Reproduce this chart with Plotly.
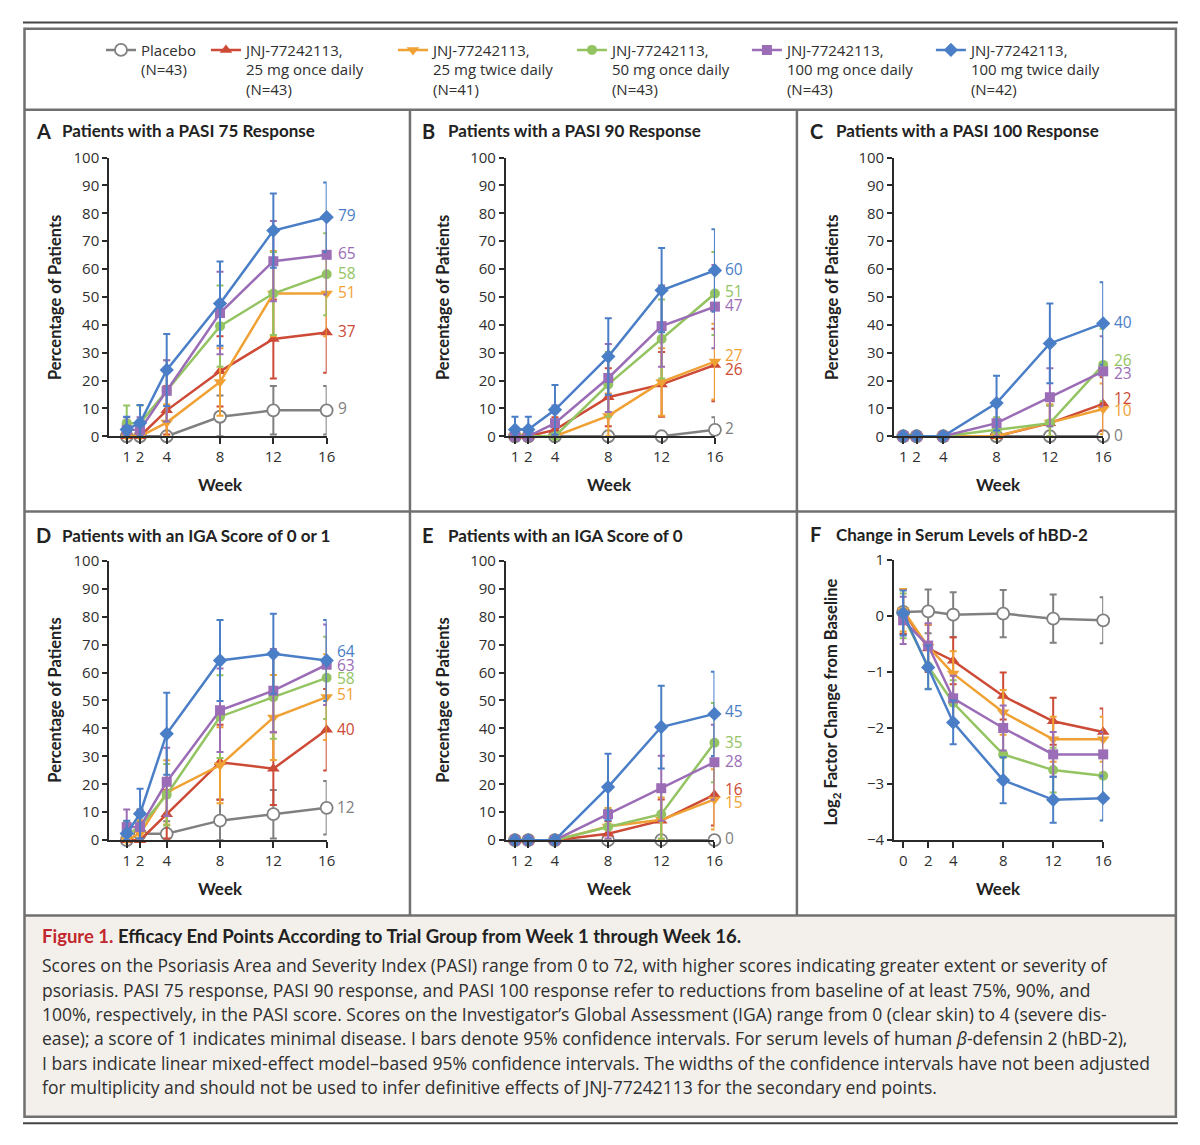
import plotly.graph_objects as go

W, H = 1200, 1145

weeks = [1, 2, 4, 8, 12, 16]
weeks_hbd2 = [0, 2, 4, 8, 12, 16]

group_names = [
    "Placebo<br>(N=43)",
    "JNJ-77242113,<br>25 mg once daily<br>(N=43)",
    "JNJ-77242113,<br>25 mg twice daily<br>(N=41)",
    "JNJ-77242113,<br>50 mg once daily<br>(N=43)",
    "JNJ-77242113,<br>100 mg once daily<br>(N=43)",
    "JNJ-77242113,<br>100 mg twice daily<br>(N=42)",
]

# rows: placebo, 25 mg qd, 25 mg bid, 50 mg qd, 100 mg qd, 100 mg bid
# *_ci = half width of the 95% confidence interval
pasi75 = [
    [0, 0, 0, 7.0, 9.3, 9.3],
    [0, 0, 9.3, 23.3, 34.9, 37.2],
    [0, 0, 4.9, 19.5, 51.2, 51.2],
    [4.7, 4.7, 16.3, 39.5, 51.2, 58.1],
    [2.3, 2.3, 16.3, 44.2, 62.8, 65.1],
    [2.4, 4.8, 23.8, 47.6, 73.8, 78.6],
]
pasi75_ci = [
    [0, 0, 0, 7.6, 8.7, 8.7],
    [0, 0, 8.7, 12.6, 14.2, 14.4],
    [0, 0, 6.6, 12.1, 15.3, 15.3],
    [6.3, 6.3, 11.0, 14.6, 14.9, 14.7],
    [4.5, 4.5, 11.0, 14.8, 14.4, 14.2],
    [4.6, 6.4, 12.9, 15.1, 13.3, 12.4],
]

pasi90 = [
    [0, 0, 0, 0, 0, 2.3],
    [0, 0, 2.3, 14.0, 18.6, 25.6],
    [0, 0, 0, 7.3, 19.5, 26.8],
    [0, 0, 0, 18.6, 34.9, 51.2],
    [0, 0, 4.7, 20.9, 39.5, 46.51],
    [2.4, 2.4, 9.5, 28.6, 52.4, 59.5],
]
pasi90_ci = [
    [0, 0, 0, 0, 0, 4.5],
    [0, 0, 4.5, 10.4, 11.6, 13.0],
    [0, 0, 0, 8.0, 12.1, 13.6],
    [0, 0, 0, 11.6, 14.2, 14.9],
    [0, 0, 6.3, 12.2, 14.6, 14.9],
    [4.6, 4.6, 8.9, 13.7, 15.1, 14.8],
]

pasi100 = [
    [0, 0, 0, 0, 0, 0],
    [0, 0, 0, 0, 4.7, 11.6],
    [0, 0, 0, 0, 4.9, 9.8],
    [0, 0, 0, 2.3, 4.7, 25.6],
    [0, 0, 0, 4.7, 14.0, 23.3],
    [0, 0, 0, 11.9, 33.3, 40.48],
]
pasi100_ci = [
    [0, 0, 0, 0, 0, 0],
    [0, 0, 0, 0, 6.3, 9.6],
    [0, 0, 0, 0, 6.6, 9.1],
    [0, 0, 0, 4.5, 6.3, 13.0],
    [0, 0, 0, 6.3, 10.4, 12.6],
    [0, 0, 0, 9.8, 14.3, 14.8],
]

iga01 = [
    [0, 2.3, 2.3, 7.0, 9.3, 11.6],
    [0, 0, 9.3, 27.9, 25.6, 39.5],
    [0, 2.4, 17.1, 26.8, 43.9, 51.2],
    [2.3, 4.7, 16.3, 44.2, 51.2, 58.1],
    [4.7, 4.7, 20.9, 46.5, 53.5, 62.8],
    [2.4, 9.5, 38.1, 64.3, 66.7, 64.3],
]
iga01_ci = [
    [0, 4.5, 4.5, 7.6, 8.7, 9.6],
    [0, 0, 8.7, 13.4, 13.0, 14.6],
    [0, 4.7, 11.5, 13.6, 15.2, 15.3],
    [4.5, 6.3, 11.0, 14.8, 14.9, 14.7],
    [6.3, 6.3, 12.2, 14.9, 14.9, 14.4],
    [4.6, 8.9, 14.7, 14.5, 14.3, 14.5],
]

iga0 = [
    [0, 0, 0, 0, 0, 0],
    [0, 0, 0, 2.3, 7.0, 16.3],
    [0, 0, 0, 4.9, 7.3, 14.6],
    [0, 0, 0, 4.7, 9.3, 34.9],
    [0, 0, 0, 9.3, 18.6, 27.9],
    [0, 0, 0, 19.0, 40.5, 45.2],
]
iga0_ci = [
    [0, 0, 0, 0, 0, 0],
    [0, 0, 0, 4.5, 7.6, 11.0],
    [0, 0, 0, 6.6, 8.0, 10.8],
    [0, 0, 0, 6.3, 8.7, 14.2],
    [0, 0, 0, 8.7, 11.6, 13.4],
    [0, 0, 0, 11.9, 14.8, 15.1],
]

# log2 factor change from baseline in serum hBD-2
hbd2 = [
    [0.07, 0.08, 0.02, 0.04, -0.05, -0.08],
    [0.08, -0.58, -0.80, -1.43, -1.88, -2.07],
    [0.10, -0.55, -1.03, -1.72, -2.20, -2.20],
    [0.00, -0.90, -1.55, -2.47, -2.75, -2.85],
    [-0.08, -0.53, -1.47, -2.00, -2.47, -2.47],
    [0.05, -0.92, -1.90, -2.93, -3.28, -3.25],
]
hbd2_ci = [
    [0.40, 0.39, 0.40, 0.42, 0.43, 0.41],
    [0.40, 0.42, 0.42, 0.42, 0.42, 0.42],
    [0.38, 0.40, 0.40, 0.40, 0.40, 0.40],
    [0.40, 0.40, 0.40, 0.40, 0.40, 0.40],
    [0.42, 0.40, 0.40, 0.40, 0.40, 0.40],
    [0.40, 0.39, 0.39, 0.41, 0.41, 0.40],
]

colors = ["#808080", "#cc4a36", "#f0a134", "#94c462", "#9b6db6", "#4a7ec6"]
symbols = ["circle", "triangle-up", "triangle-down", "circle", "square", "diamond"]
msizes = [12, 11, 11, 10, 10, 11]

BOLD = "Lato"
REG = "Open Sans"
TXT = "#2f2f2f"

# the captured page comes out slightly shrunk and pushed down; positions below are
# given in picture pixels and mapped back through this
SX, OX = 0.9926, 0.0
SY, OY = 0.981, 10.4


def px(x):
    return ((x - OX) / SX) / W


def py(y):
    return 1 - ((y - OY) / SY) / H


panels = [
    dict(letter="A", title="Patients with a PASI 75 Response", vals=pasi75, ci=pasi75_ci, x=weeks,
         x0=109, x1=326.7, xmin=-0.33, yb=435, yt=156.7, lx=34, ly=130,
         ytx=55, yty=296, wx=221, wy=483, lab_dx=9.5, lab_dy=[2, 1.5, 2, 1.7, 2, 2]),
    dict(letter="B", title="Patients with a PASI 90 Response", vals=pasi90, ci=pasi90_ci, x=weeks,
         x0=505.7, x1=715, xmin=0.3, yb=435, yt=156.7, lx=420, ly=130,
         ytx=443, yty=296, wx=610, wy=483, lab_dx=8, lab_dy=[2, -4.5, 7, 2.5, 1.4, 1.7]),
    dict(letter="C", title="Patients with a PASI 100 Response", vals=pasi100, ci=pasi100_ci, x=weeks,
         x0=894, x1=1103.3, xmin=0.3, yb=435, yt=156.7, lx=808, ly=130,
         ytx=832, yty=296, wx=999, wy=483, lab_dx=9, lab_dy=[1.7, 6, -1.4, 4.7, -1.4, 1.7]),
    dict(letter="D", title="Patients with an IGA Score of 0 or 1", vals=iga01, ci=iga01_ci, x=weeks,
         x0=109, x1=326.7, xmin=-0.33, yb=838.3, yt=559.3, lx=34, ly=534,
         ytx=55, yty=698, wx=221, wy=887, lab_dx=8.5, lab_dy=[1, 1, 3, -0.5, 0, 9.5]),
    dict(letter="E", title="Patients with an IGA Score of 0", vals=iga0, ci=iga0_ci, x=weeks,
         x0=505.7, x1=714.5, xmin=0.3, yb=838.3, yt=559.3, lx=420, ly=534,
         ytx=443, yty=698, wx=610, wy=887, lab_dx=8.5, lab_dy=[1.7, 6, -2.5, 0.3, 1, 2.8]),
    dict(letter="F", title="Change in Serum Levels of hBD-2", vals=hbd2, ci=hbd2_ci, x=weeks_hbd2,
         x0=894, x1=1103.3, xmin=-0.74, yb=838.3, yt=558.3, lx=808, ly=533,
         ytx=832, yty=700, wx=999, wy=887, lab_dx=None, lab_dy=None),
]

fig = go.Figure()
annotations = []
layout_axes = {}

for i, p in enumerate(panels):
    sfx = "" if i == 0 else str(i + 1)
    pct = p["letter"] != "F"
    for g in range(6):
        vals = p["vals"][g]
        ci = p["ci"][g]
        minus = [min(c, v) for c, v in zip(ci, vals)] if pct else ci
        fig.add_trace(go.Scatter(
            x=p["x"], y=vals, mode="lines+markers",
            xaxis="x" + sfx, yaxis="y" + sfx,
            name=group_names[g],
            line=dict(color=colors[g], width=2.5),
            marker=dict(symbol=symbols[g], size=msizes[g],
                        color="white" if g == 0 else colors[g],
                        line=dict(color=colors[g], width=1.8 if g == 0 else 0)),
            error_y=dict(type="data", symmetric=False, array=ci, arrayminus=minus,
                         color=colors[g], thickness=2, width=3.5),
            cliponaxis=False,
            showlegend=(i == 0),
            legend="legend" if g == 0 else "legend%d" % (g + 1),
            hoverinfo="skip",
        ))
        if pct:
            annotations.append(dict(
                x=p["x"][-1], y=vals[-1], xref="x" + sfx, yref="y" + sfx,
                text=str(int(vals[-1] + 0.5)), showarrow=False,
                xanchor="left", yanchor="middle",
                xshift=p["lab_dx"], yshift=p["lab_dy"][g],
                font=dict(family=REG, size=15.5, color=colors[g]),
            ))

    axis_common = dict(showgrid=False, zeroline=False, showline=True, linecolor="#2a2a2a",
                       linewidth=1.5, ticks="outside", tickcolor="#2a2a2a", tickwidth=1.5,
                       tickfont=dict(family=REG, size=15, color=TXT))
    layout_axes["xaxis" + sfx] = dict(
        axis_common, domain=[px(p["x0"]), px(p["x1"])], range=[p["xmin"], 16],
        tickvals=p["x"], ticklen=6, anchor="y" + sfx)
    if pct:
        layout_axes["yaxis" + sfx] = dict(
            axis_common, domain=[py(p["yb"]), py(p["yt"])], range=[0, 100],
            tickvals=list(range(0, 101, 10)), ticklen=5, anchor="x" + sfx)
    else:
        layout_axes["yaxis" + sfx] = dict(
            axis_common, domain=[py(p["yb"]), py(p["yt"])], range=[-4, 1],
            tickvals=[-4, -3, -2, -1, 0, 1], ticklen=5, anchor="x" + sfx)

    # panel title
    annotations.append(dict(x=px(p["lx"]), y=py(p["ly"]), xref="paper", yref="paper",
                            text="<b>%s</b>" % p["letter"], showarrow=False,
                            xanchor="left", yanchor="middle",
                            font=dict(family=BOLD, size=20, color="#222")))
    annotations.append(dict(x=px(p["lx"] + 26), y=py(p["ly"]), xref="paper", yref="paper",
                            text="<b>%s</b>" % p["title"], showarrow=False,
                            xanchor="left", yanchor="middle",
                            font=dict(family=BOLD, size=17, color="#222")))
    ytitle = "Percentage of Patients" if pct else "Log<sub>2</sub> Factor Change from Baseline"
    annotations.append(dict(x=px(p["ytx"]), y=py(p["yty"]), xref="paper", yref="paper",
                            text="<b>%s</b>" % ytitle, textangle=-90, showarrow=False,
                            xanchor="center", yanchor="middle",
                            font=dict(family=BOLD, size=16.5, color="#222")))
    annotations.append(dict(x=px(p["wx"]), y=py(p["wy"]), xref="paper", yref="paper",
                            text="<b>Week</b>", showarrow=False,
                            xanchor="center", yanchor="middle",
                            font=dict(family=BOLD, size=17, color="#222")))

# caption
caption_title = ("<b><span style='color:#c1272d'>Figure 1.</span> Efficacy End Points According "
                 "to Trial Group from Week 1 through Week 16.</b>")
caption_lines = [
    "Scores on the Psoriasis Area and Severity Index (PASI) range from 0 to 72, with higher scores indicating greater extent or severity of",
    "psoriasis. PASI 75 response, PASI 90 response, and PASI 100 response refer to reductions from baseline of at least 75%, 90%, and",
    "100%, respectively, in the PASI score. Scores on the Investigator\u2019s Global Assessment (IGA) range from 0 (clear skin) to 4 (severe dis-",
    "ease); a score of 1 indicates minimal disease. I bars denote 95% confidence intervals. For serum levels of human <i>\u03b2</i>-defensin 2 (hBD-2),",
    "I bars indicate linear mixed-effect model\u2013based 95% confidence intervals. The widths of the confidence intervals have not been adjusted",
    "for multiplicity and should not be used to infer definitive effects of JNJ-77242113 for the secondary end points.",
]
annotations.append(dict(x=px(40), y=py(934), xref="paper", yref="paper", text=caption_title,
                        showarrow=False, xanchor="left", yanchor="middle",
                        font=dict(family=BOLD, size=18.5, color="#222")))
for k, line in enumerate(caption_lines):
    annotations.append(dict(x=px(40), y=py(963 + k * 24.4), xref="paper", yref="paper", text=line,
                            showarrow=False, xanchor="left", yanchor="middle",
                            font=dict(family=REG, size=17.5, color=TXT)))

# frame
frame = "#707070"
shapes = [
    dict(type="rect", xref="paper", yref="paper", x0=px(24.5), x1=px(1176), y0=py(1114.5), y1=py(913.5),
         fillcolor="#f3f0eb", line=dict(width=0), layer="below"),
    dict(type="rect", xref="paper", yref="paper", x0=px(24.5), x1=px(1176), y0=py(1114.5), y1=py(28),
         line=dict(color=frame, width=2.5)),
    dict(type="line", xref="paper", yref="paper", x0=px(23), x1=px(1178), y0=py(22), y1=py(22),
         line=dict(color="#444", width=2)),
    dict(type="line", xref="paper", yref="paper", x0=px(23), x1=px(1178), y0=py(1121), y1=py(1121),
         line=dict(color="#444", width=2)),
    dict(type="line", xref="paper", yref="paper", x0=px(24.5), x1=px(1176), y0=py(109), y1=py(109),
         line=dict(color=frame, width=2.5)),
    dict(type="line", xref="paper", yref="paper", x0=px(24.5), x1=px(1176), y0=py(510), y1=py(510),
         line=dict(color=frame, width=2.5)),
    dict(type="line", xref="paper", yref="paper", x0=px(24.5), x1=px(1176), y0=py(913.5), y1=py(913.5),
         line=dict(color=frame, width=2.5)),
    dict(type="line", xref="paper", yref="paper", x0=px(410), x1=px(410), y0=py(913.5), y1=py(109),
         line=dict(color=frame, width=2.5)),
    dict(type="line", xref="paper", yref="paper", x0=px(797), x1=px(797), y0=py(913.5), y1=py(109),
         line=dict(color=frame, width=2.5)),
]

# one legend per group so each entry sits where it does in the figure
legend_x = [101, 206, 393, 572, 747, 931]
legends = {}
for g in range(6):
    key = "legend" if g == 0 else "legend%d" % (g + 1)
    legends[key] = dict(x=px(legend_x[g]), y=py(33), xanchor="left", yanchor="top",
                        bgcolor="rgba(0,0,0,0)", borderwidth=0, valign="top",
                        font=dict(family=REG, size=15, color=TXT))

fig.update_layout(
    width=W, height=H,
    margin=dict(l=0, r=0, t=0, b=0),
    paper_bgcolor="white", plot_bgcolor="rgba(0,0,0,0)",
    font=dict(family=REG, color=TXT),
    annotations=annotations, shapes=shapes,
    **layout_axes, **legends,
)

# pin the figure to the top-left corner of the page, nothing around it
page_fix = ("document.documentElement.style.margin='0';document.documentElement.style.overflow='hidden';"
            "document.body.style.margin='0';document.body.style.padding='0';"
            "document.body.style.overflow='hidden';"
            "var gd=document.getElementById('{plot_id}');"
            "gd.style.position='absolute';gd.style.left='0px';gd.style.top='0px';")
fig.write_html("out.html", post_script=page_fix, config={"displayModeBar": False})
